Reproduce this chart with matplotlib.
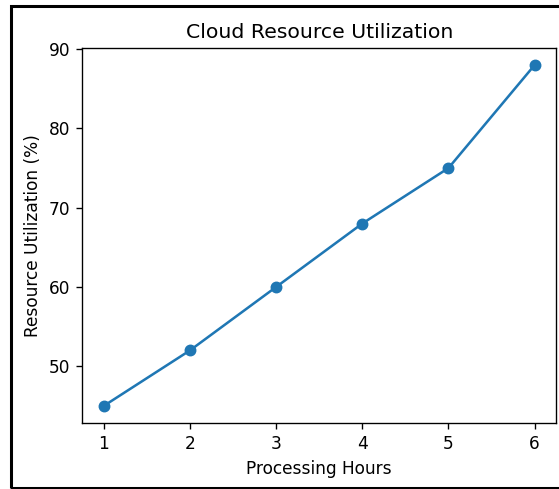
import matplotlib
matplotlib.use("Agg")
import matplotlib.pyplot as plt
from matplotlib.patches import Rectangle

hours = [1, 2, 3, 4, 5, 6]
utilization = [45, 52, 60, 68, 75, 88]

dpi = 122
fig = plt.figure(figsize=(559/dpi, 489/dpi), dpi=dpi)
ax = fig.add_axes([0.147, 0.135, 0.848, 0.767])
ax.plot(hours, utilization, marker="o")
ax.set_title("Cloud Resource Utilization")
ax.set_xlabel("Processing Hours")
ax.set_ylabel("Resource Utilization (%)")

# screenshot border around the figure
fig.patches.append(Rectangle((11/559, 1/489), 1.0, 482/489, transform=fig.transFigure,
                             fill=False, edgecolor="black", linewidth=1.8))

fig.savefig("out.png", dpi=dpi)
